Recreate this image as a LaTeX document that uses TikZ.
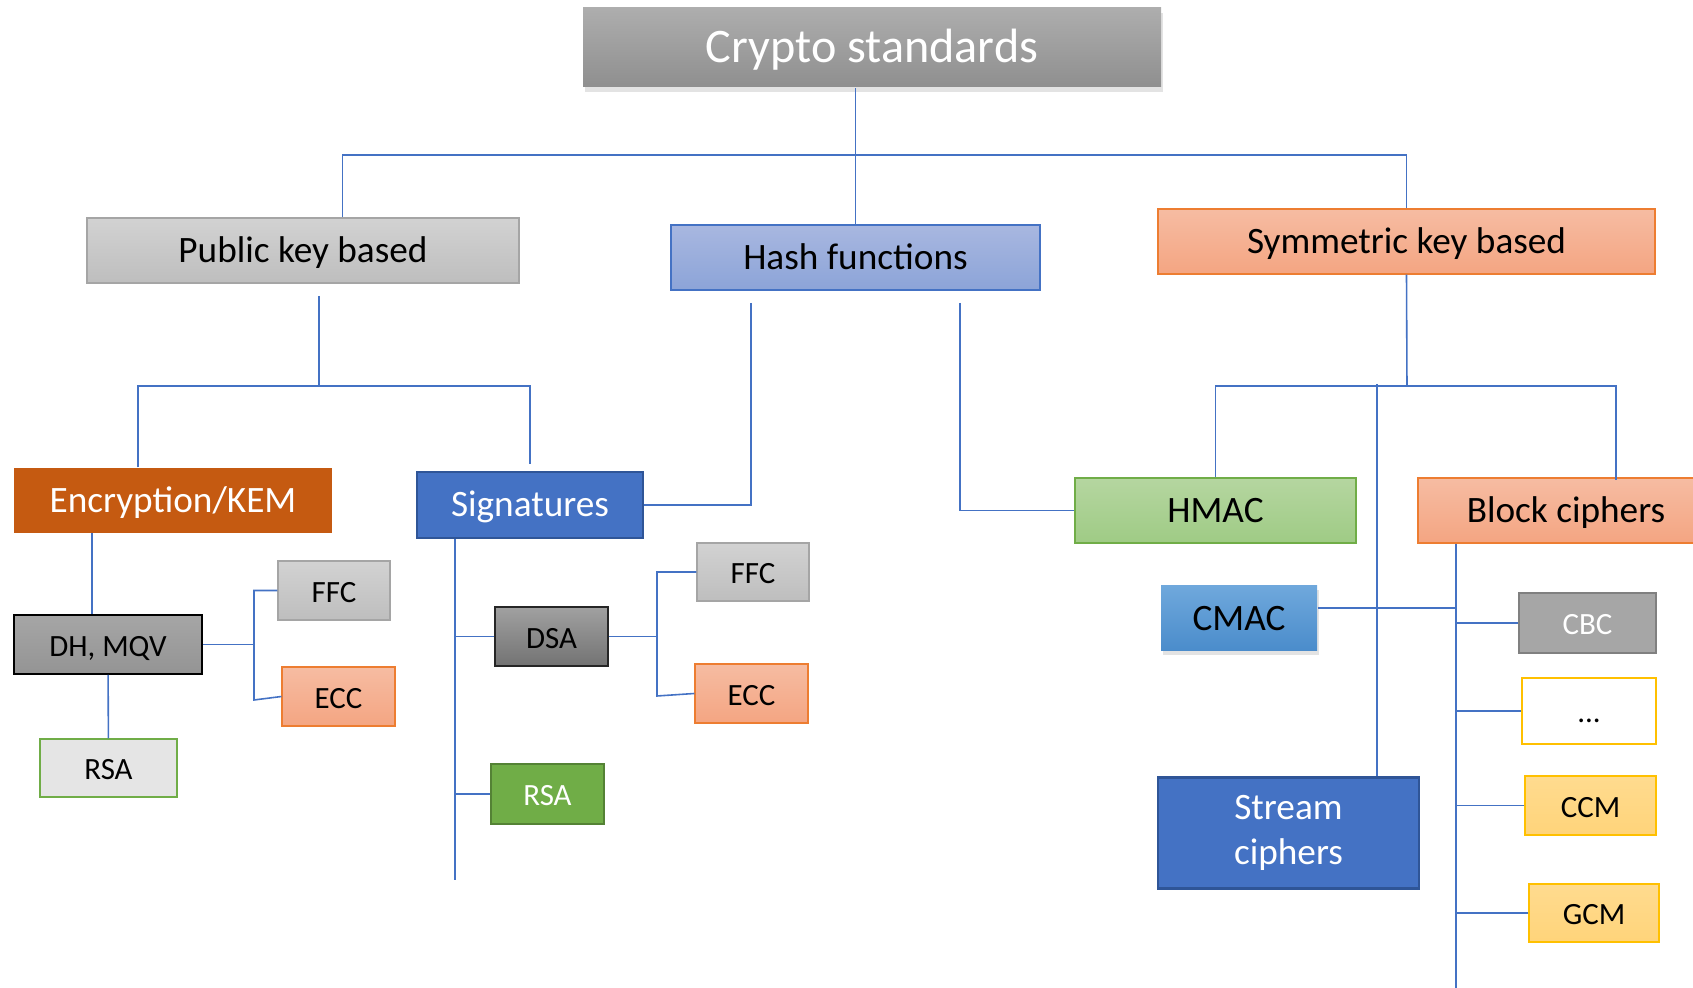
\documentclass[tikz,border=0pt]{standalone}
\usepackage{fontspec}
\setmainfont{Carlito}
\usetikzlibrary{positioning,shadows}
\definecolor{linkblue}{RGB}{68,114,196}
\definecolor{darkblue}{RGB}{47,85,151}
\definecolor{rust}{RGB}{197,90,17}
\definecolor{salmontop}{RGB}{246,188,162}
\definecolor{salmonbot}{RGB}{244,165,130}
\definecolor{salmonline}{RGB}{237,125,49}
\definecolor{greytop}{RGB}{210,210,210}
\definecolor{greybot}{RGB}{190,190,190}
\definecolor{greyline}{RGB}{165,165,165}
\definecolor{hashtop}{RGB}{168,183,224}
\definecolor{hashbot}{RGB}{140,164,216}
\definecolor{greentop}{RGB}{181,214,160}
\definecolor{greenbot}{RGB}{159,203,133}
\definecolor{leafgreen}{RGB}{112,173,71}
\definecolor{deepgreen}{RGB}{84,130,53}
\definecolor{cmactop}{RGB}{111,168,220}
\definecolor{cmacbot}{RGB}{74,140,203}
\definecolor{amber}{RGB}{255,192,0}
\definecolor{ambertop}{RGB}{255,219,143}
\definecolor{amberbot}{RGB}{255,212,122}

\begin{document}
\begin{tikzpicture}[
  base/.style={rectangle,draw,inner sep=0pt,align=center,line width=0.3pt},
  box/.style={base,text height=0.85em,text depth=0.17em,
    font=\fontsize{10.6}{12.8}\selectfont},
  leaf/.style={box,font=\fontsize{8.8}{10.6}\selectfont},
  salmon/.style={top color=salmontop,bottom color=salmonbot,draw=salmonline},
  greybox/.style={top color=greytop,bottom color=greybot,draw=greyline},
  link/.style={draw=linkblue,line width=0.45pt}
]
  \useasboundingbox (0,0) rectangle (16.93,-9.88);

  % Top level
  \node[box,top color=black!32,bottom color=black!44,draw=none,text=white,
    drop shadow={opacity=0.22,shadow xshift=0.02,shadow yshift=-0.05},
    text height=1.0em,minimum width=5.78cm,minimum height=0.79cm,font=\fontsize{13.7}{16}\selectfont]
    (crypto) at (8.72,-0.475) {Crypto standards};

  % Second level
  \node[box,greybox,minimum width=4.32cm,minimum height=0.65cm] (pubkey) at (3.03,-2.505) {Public key based};
  \node[box,top color=hashtop,bottom color=hashbot,draw=linkblue,minimum width=3.69cm,minimum height=0.65cm] (hash) at (8.555,-2.575) {Hash functions};
  \node[box,salmon,minimum width=4.97cm,minimum height=0.65cm] (symm) at (14.065,-2.415) {Symmetric key based};

  % Third level
  \node[box,fill=rust,draw=none,text=white,minimum width=3.18cm,minimum height=0.65cm] (enc) at (1.73,-5.005) {Encryption/KEM};
  \node[box,fill=linkblue,draw=darkblue,line width=0.6pt,text=white,minimum width=2.26cm,minimum height=0.66cm] (sig) at (5.30,-5.05) {Signatures};
  \node[box,top color=greentop,bottom color=greenbot,draw=leafgreen,minimum width=2.81cm,minimum height=0.65cm] (hmac) at (12.155,-5.105) {HMAC};
  \node[box,salmon,minimum width=2.96cm,minimum height=0.65cm] (block) at (15.66,-5.105) {Block ciphers};
  \node[box,top color=cmactop,bottom color=cmacbot,draw=none,
    drop shadow={opacity=0.22,shadow xshift=0.02,shadow yshift=-0.04},
    minimum width=1.56cm,minimum height=0.65cm] (cmac) at (12.39,-6.185) {CMAC};
  \node[base,fill=linkblue,draw=darkblue,line width=0.6pt,text=white,font=\fontsize{10.6}{12.8}\selectfont,
    minimum width=2.61cm,minimum height=1.11cm] (stream) at (12.885,-8.33) {Stream\\ciphers};

  % Encryption leaves
  \node[leaf,top color=black!35,bottom color=black!42,draw=black,line width=0.5pt,minimum width=1.885cm,minimum height=0.59cm] (dhmqv) at (1.08,-6.445) {DH, MQV};
  \node[leaf,greybox,minimum width=1.12cm,minimum height=0.59cm] (ffcenc) at (3.34,-5.905) {FFC};
  \node[leaf,salmon,minimum width=1.13cm,minimum height=0.59cm] (eccenc) at (3.385,-6.965) {ECC};
  \node[leaf,fill=black!10,draw=leafgreen,minimum width=1.37cm,minimum height=0.58cm] (rsaenc) at (1.085,-7.68) {RSA};

  % Signature leaves
  \node[leaf,top color=black!37,bottom color=black!55,draw=black!85,line width=0.5pt,minimum width=1.13cm,minimum height=0.59cm] (dsa) at (5.515,-6.365) {DSA};
  \node[leaf,greybox,minimum width=1.12cm,minimum height=0.58cm] (ffcsig) at (7.53,-5.72) {FFC};
  \node[leaf,salmon,minimum width=1.13cm,minimum height=0.59cm] (eccsig) at (7.515,-6.935) {ECC};
  \node[leaf,fill=leafgreen,draw=deepgreen,line width=0.6pt,text=white,minimum width=1.13cm,minimum height=0.60cm] (rsasig) at (5.475,-7.94) {RSA};

  % Block cipher modes
  \node[leaf,fill=black!35,draw=black!50,line width=0.7pt,text=white,minimum width=1.37cm,minimum height=0.60cm] (cbc) at (15.875,-6.23) {CBC};
  \node[leaf,fill=white,draw=amber,line width=0.6pt,minimum width=1.34cm,minimum height=0.66cm] (dots) at (15.89,-7.11) {...};
  \node[leaf,top color=ambertop,bottom color=amberbot,draw=amber,minimum width=1.31cm,minimum height=0.59cm] (ccm) at (15.905,-8.055) {CCM};
  \node[leaf,top color=ambertop,bottom color=amberbot,draw=amber,minimum width=1.30cm,minimum height=0.58cm] (gcm) at (15.94,-9.13) {GCM};

  % Junction points
  \coordinate (topbus) at (3.425,-1.55);
  \coordinate (pkfoot) at (3.19,-2.96);
  \coordinate (pkbus) at (3.19,-3.86);
  \coordinate (encfork) at (1.38,-3.86);
  \coordinate (sigfork) at (5.30,-4.64);
  \coordinate (hashleft) at (7.51,-3.03);
  \coordinate (hashright) at (9.60,-3.03);
  \coordinate (symbus) at (14.07,-3.86);
  \coordinate (blockfork) at (16.16,-4.80);
  \coordinate (streamfork) at (13.77,-3.84);
  \coordinate (blockspine) at (14.56,-9.88);
  \coordinate (encfoot) at (0.92,-5.33);
  \coordinate (dhfork) at (2.54,-6.445);
  \coordinate (dhlow) at (2.54,-7.00);
  \coordinate (sigspine) at (4.55,-8.80);
  \coordinate (dsafork) at (6.57,-6.365);
  \coordinate (dsalow) at (6.57,-6.96);

  % Connectors
  \draw[link] (hash.north) -- (hash.north |- crypto.south);
  \draw[link] (topbus |- pubkey.north) -- (topbus) -| (symm.north);
  \draw[link] (pkfoot) -- (pkbus);
  \draw[link] (enc.north -| encfork) -- (encfork) -| (sigfork);
  \draw[link] (hashleft) |- (sig.east);
  \draw[link] (hashright) |- (hmac.west);
  \draw[link] (symm.south) -- (symbus);
  \draw[link] (hmac.north) |- (symbus) -| (blockfork);
  \draw[link] (streamfork) -- (streamfork |- stream.north);
  \draw[link] (blockspine |- block.south) -- (blockspine);
  \draw[link] (cmac.east |- 0,-6.08) -- (blockspine |- 0,-6.08);
  \foreach \m in {cbc,dots,ccm,gcm}
    \draw[link] (\m.west) -- (blockspine |- \m.west);

  \draw[link] (encfoot) -- (encfoot |- dhmqv.north);
  \draw[link] (dhmqv.east) -- (dhfork);
  \draw[link] (ffcenc.west) -| (dhlow) -- (eccenc.west);
  \draw[link] (dhmqv) -- (rsaenc);

  \draw[link] (sig.south -| sigspine) -- (sigspine);
  \draw[link] (dsa.west) -- (sigspine |- dsa.west);
  \draw[link] (rsasig.west) -- (sigspine |- rsasig.west);
  \draw[link] (dsa.east) -- (dsafork);
  \draw[link] (ffcsig.west) -| (dsalow) -- (eccsig.west);
\end{tikzpicture}
\end{document}
